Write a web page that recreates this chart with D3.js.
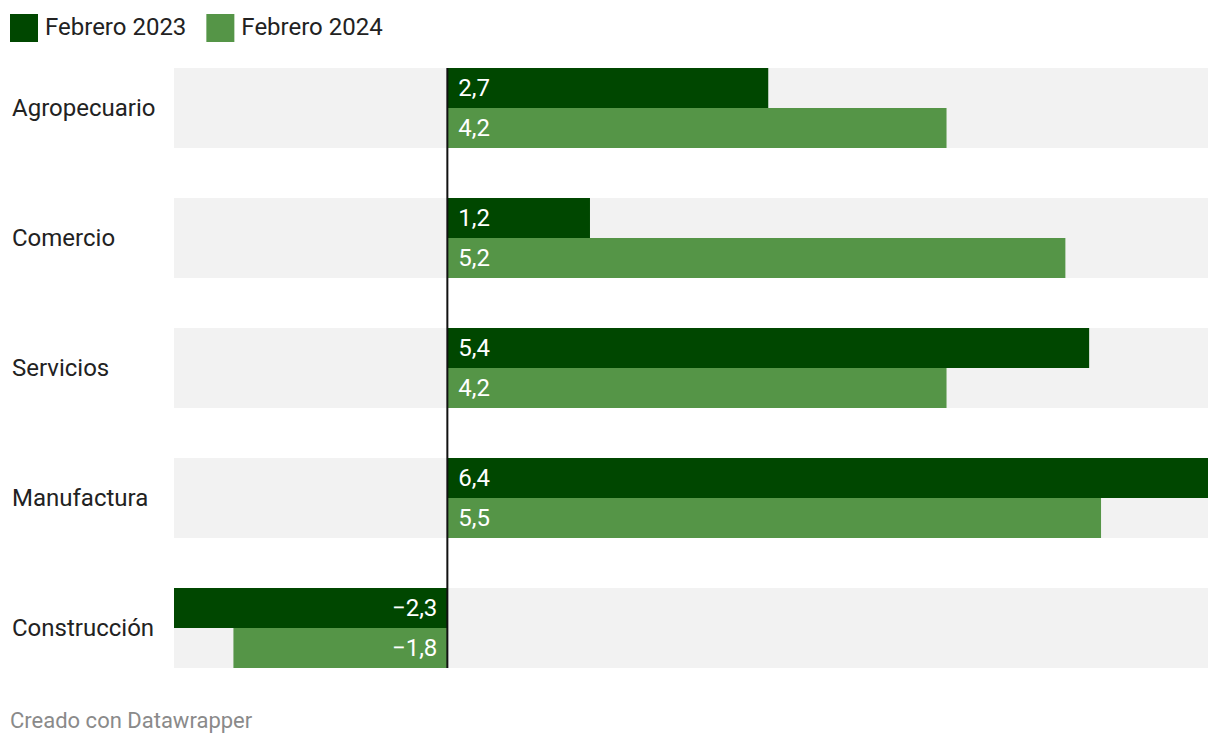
<!DOCTYPE html>
<html><head><meta charset="utf-8">
<script src="https://cdn.jsdelivr.net/npm/d3@7"></script>
<style>
body{margin:0;background:#fff;}
svg{display:block;font-family:Roboto, sans-serif;}
</style></head>
<body><svg id="c" width="1220" height="746"></svg>
<script>
const categories = ["Agropecuario","Comercio","Servicios","Manufactura","Construcción"];
const seriesNames = ["Febrero 2023","Febrero 2024"];
const feb2023 = [2.7, 1.2, 5.4, 6.4, -2.3];
const feb2024 = [4.2, 5.2, 4.2, 5.5, -1.8];
const colors = ["#004700","#559547"];
const footerText = "Creado con Datawrapper";

const svg = d3.select("#c");
const series = [feb2023, feb2024];
const x = d3.scaleLinear().domain([d3.min(series.flat()), d3.max(series.flat())]).range([174, 1208]);
const y = d3.scaleBand().domain(categories).range([68, 668]).paddingInner(50/130).paddingOuter(0);
const sub = d3.scaleBand().domain(seriesNames).range([0, y.bandwidth()]);
const fmt = v => (v < 0 ? "\u2212" : "") + Math.abs(v).toFixed(1).replace(".", ",");

// legend
const leg = svg.append("g");
let lx = 10;
seriesNames.forEach((n, i) => {
  const g = leg.append("g").attr("transform", `translate(${lx},0)`);
  g.append("rect").attr("x", 0).attr("y", 14).attr("width", 28).attr("height", 28).attr("fill", colors[i]);
  const t = g.append("text").attr("x", 35).attr("y", 34.5).attr("font-size", 24).attr("fill", "#222").text(n);
  lx += 35 + t.node().getComputedTextLength() + 20;
});

// backgrounds
svg.append("g").selectAll("rect").data(categories).join("rect")
  .attr("x", x.range()[0]).attr("width", x.range()[1] - x.range()[0])
  .attr("y", d => y(d)).attr("height", y.bandwidth()).attr("fill", "#f2f2f2");

// category labels
svg.append("g").selectAll("text").data(categories).join("text")
  .attr("x", 12).attr("y", d => y(d) + y.bandwidth() / 2 + 7.5)
  .attr("font-size", 24).attr("fill", "#222").text(d => d);

// bars
series.forEach((vals, si) => {
  const g = svg.append("g");
  g.selectAll("rect").data(vals).join("rect")
    .attr("x", v => x(Math.min(0, v)))
    .attr("width", v => Math.abs(x(v) - x(0)))
    .attr("y", (v, i) => y(categories[i]) + sub(seriesNames[si]))
    .attr("height", sub.bandwidth())
    .attr("fill", colors[si]);
  g.selectAll("text").data(vals).join("text")
    .attr("x", v => v >= 0 ? x(0) + 11 : x(0) - 10)
    .attr("text-anchor", v => v >= 0 ? "start" : "end")
    .attr("y", (v, i) => y(categories[i]) + sub(seriesNames[si]) + sub.bandwidth() / 2 + 8)
    .attr("font-size", 24).attr("fill", "#fff").text(fmt);
});

// zero line
svg.append("line").attr("x1", x(0)).attr("x2", x(0))
  .attr("y1", y.range()[0]).attr("y2", y(categories[categories.length - 1]) + y.bandwidth())
  .attr("stroke", "#111").attr("stroke-width", 2);

// footer
svg.append("text").attr("x", 10).attr("y", 727.5).attr("font-size", 22).attr("fill", "#8a8a8a").text(footerText);
</script></body></html>
